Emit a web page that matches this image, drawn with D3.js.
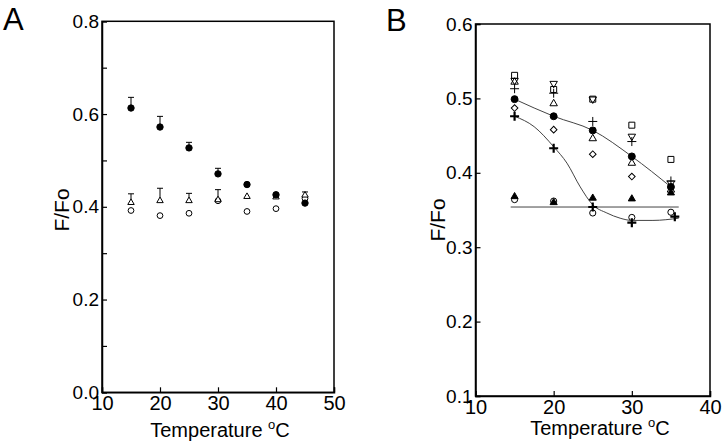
<!DOCTYPE html>
<html><head><meta charset="utf-8">
<script src="https://cdn.jsdelivr.net/npm/d3@7"></script>
<style>body{margin:0;background:#fff}svg{display:block;font-family:"Liberation Sans",Arial,sans-serif}</style>
</head><body>
<svg id="chart" width="724" height="446"></svg>
<script>
// ---------- Panel A data ----------
const tempsA = [15, 20, 25, 30, 35, 40, 45];
const aFilledCircle = [0.613, 0.572, 0.527, 0.471, 0.448, 0.426, 0.408];
const aFilledCircleErr = [0.023, 0.023, 0.012, 0.012, 0, 0, 0];
const aOpenTriangle = [0.409, 0.413, 0.413, 0.415, 0.422, 0.421, 0.425];
const aOpenTriangleErr = [0.019, 0.027, 0.016, 0.022, 0, 0, 0.007];
const aOpenCircle = [0.392, 0.381, 0.386, 0.413, 0.390, 0.396, 0.418];
const aXTicks = [10, 20, 30, 40, 50];
const aYTicks = [0, 0.1, 0.2, 0.3, 0.4, 0.5, 0.6, 0.7, 0.8];

// ---------- Panel B data ----------
const tempsB = [15, 20, 25, 30, 35];
const bFilledCircle = [0.499, 0.476, 0.457, 0.422, 0.381];
const bOpenSquare = [0.531, 0.512, 0.499, 0.464, 0.418];
const bOpenDownTri = [0.524, 0.520, 0.499, 0.449, 0.386];
const bOpenUpTri = [0.522, 0.493, 0.446, 0.413, 0.377];
const bThinPlus = [0.513, 0.507, 0.469, 0.442, 0.389];
const bOpenDiamond = [0.487, 0.458, 0.425, 0.395];
const bFilledTri = [0.368, 0.360, 0.366, 0.365, 0.373];
const bOpenCircle = [0.364, 0.362, 0.346, 0.340, 0.347];
const bBoldPlusT = [15, 20, 25, 30, 35.5];
const bBoldPlus = [0.476, 0.433, 0.354, 0.333, 0.341];
const bSigmoidFitT = [15, 17.5, 20, 21.7, 23.4, 25, 26.8, 28.5, 30, 32.7, 36];
const bSigmoidFit = [0.476, 0.462, 0.435, 0.413, 0.381, 0.357, 0.346, 0.339, 0.336, 0.336, 0.339];
const bFlatFitT = [14.5, 36];
const bFlatFit = [0.354, 0.354];
const bXTicks = [10, 20, 30, 40];
const bYTicks = [0.1, 0.2, 0.3, 0.4, 0.5, 0.6];

const svg = d3.select("#chart");

function panel(cfg) {
  const g = svg.append("g");
  const x = d3.scaleLinear().domain(cfg.xDomain).range([cfg.left, cfg.right]);
  const y = d3.scaleLinear().domain(cfg.yDomain).range([cfg.bottom, cfg.top]);
  g.append("rect").attr("x", cfg.left).attr("y", cfg.top)
    .attr("width", cfg.right - cfg.left).attr("height", cfg.bottom - cfg.top)
    .attr("fill", "none").attr("stroke", "#000").attr("stroke-width", 1.5);
  const xa = g.append("g").attr("transform", `translate(0,${cfg.bottom})`)
    .call(d3.axisBottom(x).tickValues(cfg.xTicks).tickSize(-5).tickPadding(4).tickFormat(d3.format("d")));
  const ya = g.append("g").attr("transform", `translate(${cfg.left},0)`)
    .call(d3.axisLeft(y).tickValues(cfg.yTicks).tickSize(-5).tickPadding(3).tickFormat(cfg.yFmt));
  xa.selectAll("text").attr("font-size", 20);
  ya.selectAll("text").attr("font-size", 19);
  [xa, ya].forEach(a => {
    a.select(".domain").attr("stroke-width", 1.5);
    a.selectAll(".tick line").attr("stroke-width", 1.2);
    a.selectAll("text").attr("font-family", "Liberation Sans, Arial, sans-serif").attr("fill", "#000");
  });
  const t = g.append("text").attr("x", cfg.xTitleX).attr("y", cfg.xTitleY)
    .attr("text-anchor", "middle").attr("font-size", 20);
  t.append("tspan").text("Temperature ");
  t.append("tspan").attr("font-size", 13).attr("dy", -8).text("o");
  t.append("tspan").attr("dy", 8).text("C");
  g.append("text").attr("transform", `translate(${cfg.yTitleX},${cfg.yTitleY}) rotate(-90)`)
    .attr("text-anchor", "middle").attr("font-size", 21).text("F/Fo");
  g.append("text").attr("x", cfg.letterX).attr("y", cfg.letterY)
    .attr("font-size", 31).text(cfg.letter);
  return {g, x, y};
}

const A = panel({
  xDomain: [10, 50], yDomain: [0, 0.8], left: 102, right: 334, top: 21.3, bottom: 392.3,
  xTicks: aXTicks, yTicks: aYTicks,
  yFmt: d => (Math.round(d * 10) % 2 === 0 ? d3.format(".1f")(d) : ""),
  xTitleX: 220, xTitleY: 437, yTitleX: 69, yTitleY: 210, letter: "A", letterX: 3, letterY: 30
});
const B = panel({
  xDomain: [10, 40], yDomain: [0.1, 0.6], left: 475.5, right: 710, top: 24, bottom: 396,
  xTicks: bXTicks, yTicks: bYTicks, yFmt: d3.format(".1f"),
  xTitleX: 600, xTitleY: 435, yTitleX: 445, yTitleY: 220, letter: "B", letterX: 386, letterY: 31
});

const sym = (type, size) => d3.symbol().type(type).size(size)();
const plusPath = s => `M${-s},0H${s}M0,${-s}V${s}`;

function markers(P, xs, ys, o) {
  return P.g.append("g").selectAll("path").data(ys.map((v, i) => [xs[i], v])).join("path")
    .attr("transform", d => `translate(${P.x(d[0])},${P.y(d[1])})${o.rot ? " rotate(" + o.rot + ")" : ""}`)
    .attr("d", o.d)
    .attr("fill", o.fill || "none").attr("stroke", "#000").attr("stroke-width", o.sw || 1);
}
function errBars(P, xs, ys, errs) {
  const data = ys.map((v, i) => [xs[i], v, errs[i]]).filter(d => d[2] > 0);
  const g = P.g.append("g").attr("stroke", "#000").attr("stroke-width", 1);
  g.selectAll(".v").data(data).join("line")
    .attr("x1", d => P.x(d[0])).attr("x2", d => P.x(d[0]))
    .attr("y1", d => P.y(d[1]) - 3).attr("y2", d => P.y(d[1] + d[2]));
  g.selectAll(".c").data(data).join("line")
    .attr("x1", d => P.x(d[0]) - 3).attr("x2", d => P.x(d[0]) + 3)
    .attr("y1", d => P.y(d[1] + d[2])).attr("y2", d => P.y(d[1] + d[2]));
}

// Panel A
errBars(A, tempsA, aFilledCircle, aFilledCircleErr);
errBars(A, tempsA, aOpenTriangle, aOpenTriangleErr);
markers(A, tempsA, aOpenCircle, {d: sym(d3.symbolCircle, 26), fill: "#fff"});
markers(A, tempsA, aOpenTriangle, {d: sym(d3.symbolTriangle, 18), fill: "#fff"});
markers(A, tempsA, aFilledCircle, {d: sym(d3.symbolCircle, 32), fill: "#000"});

// Panel B lines
const lineOf = (P, xs, ys, curve) => d3.line().curve(curve).x(d => P.x(d[0])).y(d => P.y(d[1]))(ys.map((v, i) => [xs[i], v]));
B.g.append("path").attr("d", lineOf(B, bFlatFitT, bFlatFit, d3.curveLinear)).attr("fill", "none").attr("stroke", "#444").attr("stroke-width", 1);
B.g.append("path").attr("d", lineOf(B, bSigmoidFitT, bSigmoidFit, d3.curveMonotoneX)).attr("fill", "none").attr("stroke", "#444").attr("stroke-width", 1);
B.g.append("path").attr("d", lineOf(B, tempsB, bFilledCircle, d3.curveMonotoneX)).attr("fill", "none").attr("stroke", "#444").attr("stroke-width", 1);

// Panel B markers
markers(B, tempsB, bOpenCircle, {d: sym(d3.symbolCircle, 30), fill: "#fff"});
markers(B, tempsB, bFilledTri, {d: sym(d3.symbolTriangle, 22), fill: "#000"});
markers(B, tempsB.slice(0, 4), bOpenDiamond, {d: sym(d3.symbolSquare, 22), rot: 45, fill: "#fff"});
markers(B, tempsB, bOpenSquare, {d: sym(d3.symbolSquare, 36), fill: "#fff"});
markers(B, tempsB, bOpenDownTri, {d: sym(d3.symbolTriangle, 24), rot: 180, fill: "none"});
markers(B, tempsB, bOpenUpTri, {d: sym(d3.symbolTriangle, 24), fill: "none"});
markers(B, tempsB, bThinPlus, {d: plusPath(4.5), sw: 1});
markers(B, tempsB, bFilledCircle, {d: sym(d3.symbolCircle, 38), fill: "#000"});
markers(B, bBoldPlusT, bBoldPlus, {d: plusPath(4.5), sw: 2.2});
</script>
</body></html>
